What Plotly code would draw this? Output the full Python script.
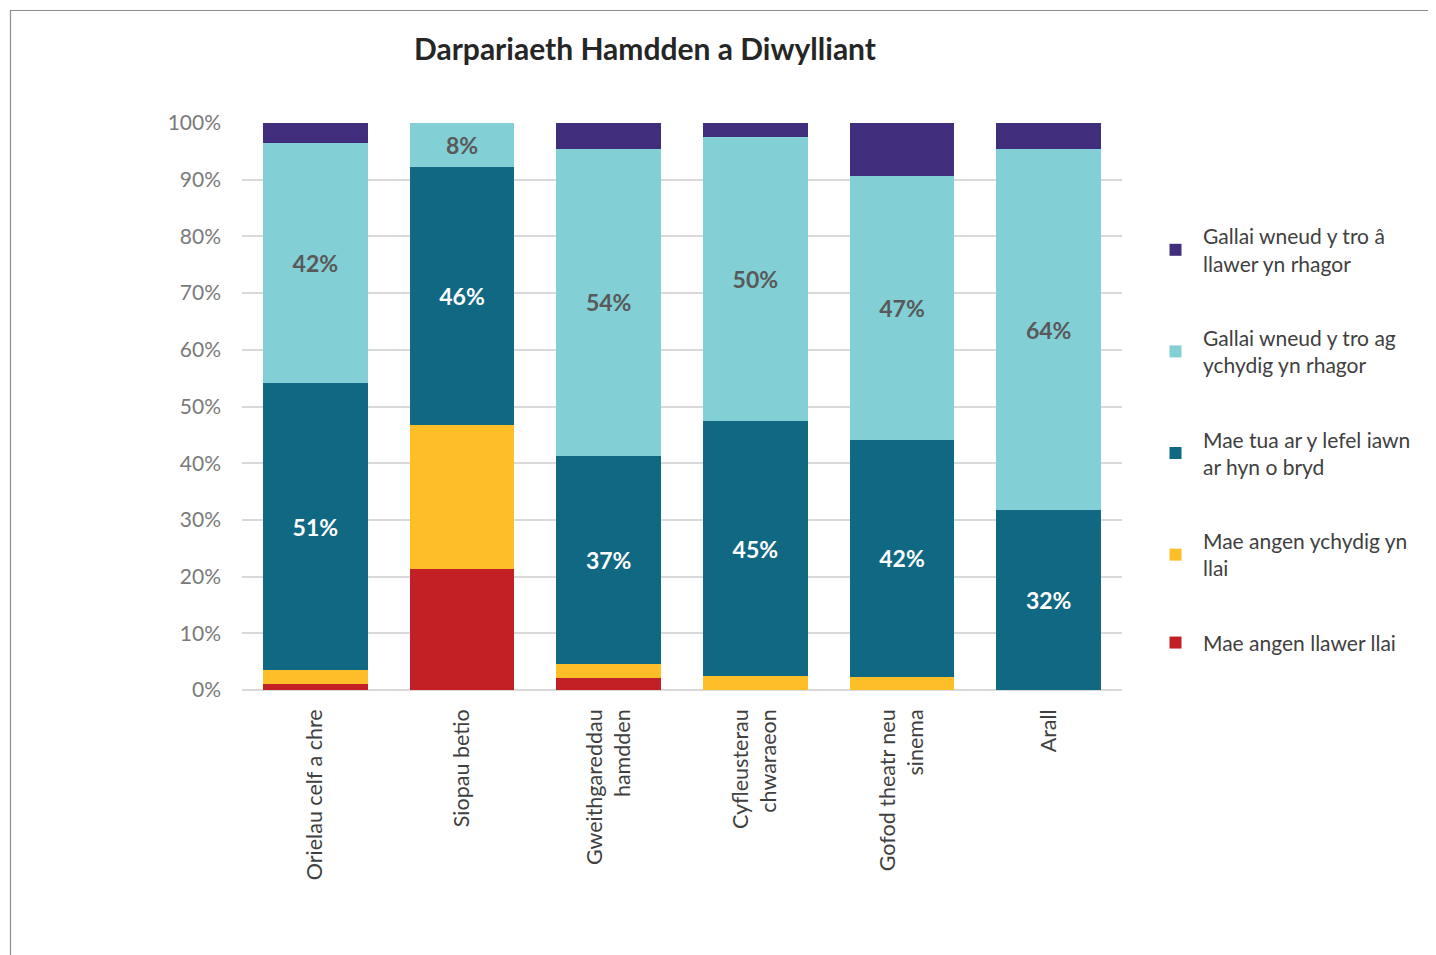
import plotly.graph_objects as go

categories = ["Orielau celf a chre", "Siopau betio", "Gweithgareddau<br>hamdden",
              "Cyfleusterau<br>chwaraeon", "Gofod theatr neu<br>sinema", "Arall"]

red_vals = [1.0, 21.3, 2.1, 0, 0, 0]
yellow_vals = [2.5, 25.4, 2.5, 2.5, 2.3, 0]
dark_vals = [50.6, 45.6, 36.7, 44.9, 41.8, 31.7]
light_vals = [42.4, 7.7, 54.1, 50.1, 46.6, 63.7]
purple_vals = [3.5, 0, 4.6, 2.5, 9.3, 4.6]

series = [
    ("Mae angen llawer llai", red_vals, "#C32026", None),
    ("Mae angen ychydig yn<br>llai", yellow_vals, "#FDBE28", None),
    ("Mae tua ar y lefel iawn<br>ar hyn o bryd", dark_vals, "#106882", "white"),
    ("Gallai wneud y tro ag<br>ychydig yn rhagor", light_vals, "#82CFD6", "#595959"),
    ("Gallai wneud y tro â<br>llawer yn rhagor", purple_vals, "#402E7C", None),
]

FONT = "Lato"
OFF = 8  # default page body margin

fig = go.Figure()
for i, (name, vals, color, tcolor) in enumerate(series):
    if tcolor:
        kw = dict(texttemplate="%{y:.0f}%", textposition="inside", insidetextanchor="middle",
                  textfont=dict(family=FONT, size=23, color=tcolor, weight="bold"),
                  textangle=0)
    else:
        kw = dict(texttemplate="")
    fig.add_trace(go.Bar(x=categories, y=vals, name=name, marker=dict(color=color, line=dict(width=0)),
                         legendgroup=str(i), legendrank=len(series) - i,
                         hoverinfo="skip", **kw))

W, H = 1436 - OFF, 955 - OFF
L = 242 - OFF
T = 123 - OFF
R = W - (1122 - OFF)
B = H - (690 - OFF)
PW, PH = W - L - R, H - T - B

def px_x(p):
    return (p - OFF - L) / PW

def px_y(p):
    return (H - B - (p - OFF)) / PH

fig.update_layout(
    width=W, height=H,
    barmode="stack", bargap=0.286,
    margin=dict(l=L, r=R, t=T, b=B),
    plot_bgcolor="white", paper_bgcolor="white",
    font=dict(family=FONT, color="#404040"),
    showlegend=True,
    legend=dict(x=px_x(1148), y=px_y(216), xanchor="left", yanchor="top",
                traceorder="grouped", tracegroupgap=44,
                font=dict(family=FONT, size=21, color="#404040"),
                itemwidth=45),
    uniformtext=dict(minsize=10, mode="show"),
    xaxis=dict(tickangle=-90, tickfont=dict(family=FONT, size=21.5, color="#404040"),
               showline=False, ticks="", ticklabelstandoff=14),
    yaxis=dict(range=[0, 100], dtick=10, ticksuffix="%", showgrid=True, gridcolor="#D9D9D9",
               gridwidth=1.5, zeroline=True, zerolinecolor="#D9D9D9", zerolinewidth=2,
               tickfont=dict(family=FONT, size=21, color="#7A7A7A"), ticks="", ticklen=0,
               ticklabelstandoff=20),
)

fig.add_annotation(text="<b>Darpariaeth Hamdden a Diwylliant</b>", xref="paper", yref="paper",
                   x=px_x(645), y=px_y(48), showarrow=False,
                   font=dict(family=FONT, size=30, color="#262626"), xanchor="center", yanchor="middle")

# outer frame lines
fig.add_shape(type="line", xref="paper", yref="paper", x0=px_x(10), x1=px_x(1500), y0=px_y(10.5), y1=px_y(10.5),
              line=dict(color="#8C8C8C", width=1.2))
fig.add_shape(type="line", xref="paper", yref="paper", x0=px_x(10.5), x1=px_x(10.5), y0=px_y(10), y1=px_y(1000),
              line=dict(color="#8C8C8C", width=1.2))

fig.write_html("out.html")
